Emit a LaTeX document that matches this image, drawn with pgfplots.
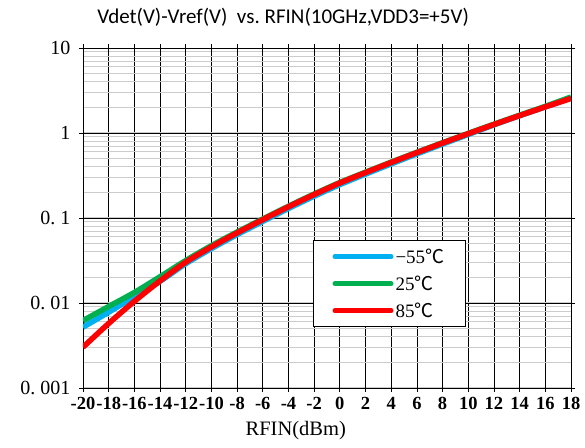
\documentclass[border=0pt]{standalone}
\usepackage{pgfplots}
\pgfplotsset{compat=1.18}
\usepackage{fontspec}
\setmainfont{Liberation Serif}
\newfontfamily\titlefont{Carlito}
\newfontfamily\cjk{Noto Sans CJK SC}

\definecolor{cold}{RGB}{0,176,240}
\definecolor{room}{RGB}{0,176,80}
\definecolor{hot}{RGB}{255,0,0}

% Vdet-Vref (V) against RFIN (dBm), one table per temperature
\pgfplotstableread{
x y
-20 0.0052
-18 0.0078
-16 0.0119
-14 0.0180
-12 0.0290
-10 0.0437
-8 0.0638
-6 0.0912
-4 0.1295
-2 0.1805
0 0.2470
2 0.3285
4 0.4330
6 0.5680
8 0.7400
10 0.9600
12 1.2450
14 1.5950
16 2.0250
18 2.5800
}\tcold
\pgfplotstableread{
x y
-20 0.0062
-18 0.0091
-16 0.0133
-14 0.0204
-12 0.0316
-10 0.0473
-8 0.0684
-6 0.0973
-4 0.1375
-2 0.1915
0 0.2615
2 0.3460
4 0.4545
6 0.5930
8 0.7690
10 0.9900
12 1.2700
14 1.6200
16 2.0600
18 2.6500
}\troom
\pgfplotstableread{
x y
-20 0.00302
-18 0.00575
-16 0.01047
-14 0.01820
-12 0.0302
-10 0.0457
-8 0.0668
-6 0.0955
-4 0.1355
-2 0.1888
0 0.2582
2 0.3420
4 0.4498
6 0.5875
8 0.7621
10 0.9817
12 1.2589
14 1.6032
16 2.0277
18 2.5468
}\thot

\begin{document}
\begin{tikzpicture}
\useasboundingbox (-83pt,-59pt) rectangle (502pt,388pt);
\begin{axis}[
  at={(0,0)}, anchor=south west,
  scale only axis, width=488pt, height=340pt,
  ymode=log,
  xmin=-20, xmax=18, ymin=0.001, ymax=10,
  xtick distance=2,
  ytick={0.001,0.01,0.1,1,10},
  yticklabels={0.\ 001,0.\ 01,0.\ 1,1,10},
  /pgf/number format/assume math mode=true,
  xticklabel style={font=\bfseries\fontsize{18.5}{18.5}\selectfont, yshift=-2pt},
  yticklabel style={font=\fontsize{20}{20}\selectfont, xshift=-5pt},
  tick align=center, major tick length=8pt, minor tick length=0pt,
  tick style={black, line width=0.8pt},
  axis line style={black, line width=0.9pt},
  xmajorgrids, ymajorgrids, yminorgrids,
  major grid style={black, line width=0.7pt},
  minor grid style={gray!40, line width=1.1pt},
  title={Vdet(V)-Vref(V)\ \ vs.\ RFIN(10GHz,VDD3=+5V)},
  title style={font=\titlefont\fontsize{21}{21}\selectfont, at={(0.41,1)}, anchor=base, yshift=18pt},
  xlabel={RFIN(dBm)},
  xlabel style={font=\fontsize{20.5}{20.5}\selectfont, at={(0.436,0)}, anchor=base, yshift=-47pt},
  legend style={at={(0.471,0.435)}, anchor=north west, draw=black, line width=1.3pt,
    fill=white, font=\fontsize{19}{19}\selectfont, inner xsep=19pt, inner ysep=6pt,
    row sep=7pt},
  legend cell align=left,
  legend image code/.code={\draw[#1, line cap=round, line width=5pt] (0pt,0pt) -- (56pt,0pt);},
]
\addplot[cold, line width=5.5pt, smooth] table {\tcold};
\addlegendentry{−55{\cjk ℃}}
\addplot[room, line width=5.5pt, smooth] table {\troom};
\addlegendentry{25{\cjk ℃}}
\addplot[hot, line width=5.5pt, smooth] table {\thot};
\addlegendentry{85{\cjk ℃}}
\end{axis}
\end{tikzpicture}
\end{document}
